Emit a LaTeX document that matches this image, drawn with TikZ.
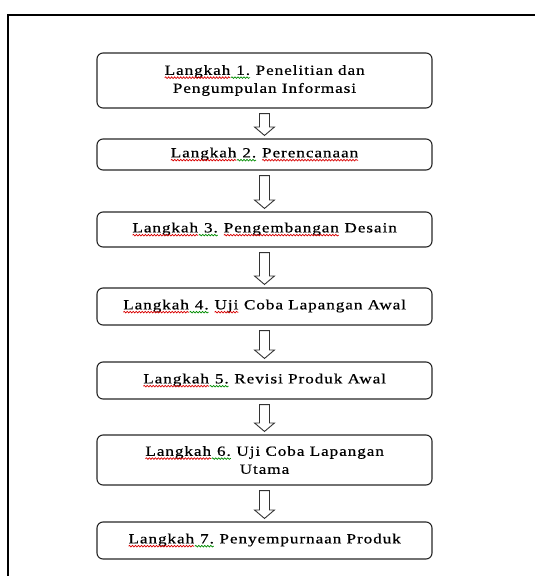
\documentclass[tikz,border=0pt]{standalone}
\usepackage{fontspec}
\setmainfont{Liberation Serif}[LetterSpace=7, FakeStretch=1.22, FakeBold=0.6]
\usetikzlibrary{calc,decorations.pathmorphing}
\tikzset{
  stepbox/.style={draw=black!85, line width=1.1pt, rounded corners=6pt,
    minimum width=335pt, inner sep=0pt, align=center,
    font=\fontsize{14pt}{18pt}\selectfont},
  harrow/.style={draw=black!80, line width=0.9pt, fill=white, line join=miter},
  frame/.style={line width=2pt, draw=black},
  wordbox/.style={inner sep=0pt, outer sep=0pt, draw=none, fill=none,
    minimum width=0pt, minimum height=0pt, sharp corners},
  squig/.style={line width=0.7pt, sharp corners, decorate,
    decoration={snake, amplitude=0.8pt, segment length=3pt}}
}
\newcommand\wavy[2]{\tikz[baseline=(w.base), x=1pt, y=1pt, sharp corners]{%
  \node[wordbox] (w) {#2};
  \draw[squig, draw=#1] ([yshift=-2.8pt]w.base west) -- ([yshift=-2.8pt]w.base east);}}
\newcommand\rw[1]{\wavy{red!85!black}{#1}}
\newcommand\gw[1]{\wavy{green!55!black}{#1}}
\newcommand\harrow[2]{%
  \draw[harrow] let \p1=($(#1.south)+(0,-5pt)$), \p2=($(#2.north)+(0,3pt)$) in
    (\x1-5pt,\y1) -- (\x1+5pt,\y1) -- (\x1+5pt,\y2+8.5pt) -- (\x1+10pt,\y2+8.5pt)
    -- (\x1,\y2) -- (\x1-10pt,\y2+8.5pt) -- (\x1-5pt,\y2+8.5pt) -- cycle;}
\begin{document}
\begin{tikzpicture}[x=1pt,y=-1pt]
\useasboundingbox (0,0) rectangle (535,576);
\coordinate (ftl) at (8,15);
\coordinate (ftr) at (535,15);
\coordinate (fbl) at (8,576);
\draw[frame] (ftr) -- (ftl) -- (fbl);
\node[stepbox, minimum height=55pt] (s1) at (264.5,80.5)
  {\rw{Langkah}\gw{\ 1.} Penelitian dan\\Pengumpulan Informasi};
\node[stepbox, minimum height=31pt] (s2) at (264.5,154.5)
  {\rw{Langkah}\gw{\ 2.} \rw{Perencanaan}};
\node[stepbox, minimum height=35pt] (s3) at (264.5,229.5)
  {\rw{Langkah}\gw{\ 3.} \rw{Pengembangan} Desain};
\node[stepbox, minimum height=37pt] (s4) at (264.5,306.5)
  {\rw{Langkah}\gw{\ 4.} \rw{Uji} Coba Lapangan Awal};
\node[stepbox, minimum height=37pt] (s5) at (264.5,380.5)
  {\rw{Langkah}\gw{\ 5.} Revisi Produk Awal};
\node[stepbox, minimum height=50pt] (s6) at (264.5,460)
  {\rw{Langkah}\gw{\ 6.} Uji Coba Lapangan\\Utama};
\node[stepbox, minimum height=37pt] (s7) at (264.5,540.5)
  {\rw{Langkah}\gw{\ 7.} Penyempurnaan Produk};
\harrow{s1}{s2}
\harrow{s2}{s3}
\harrow{s3}{s4}
\harrow{s4}{s5}
\harrow{s5}{s6}
\harrow{s6}{s7}
\end{tikzpicture}
\end{document}
